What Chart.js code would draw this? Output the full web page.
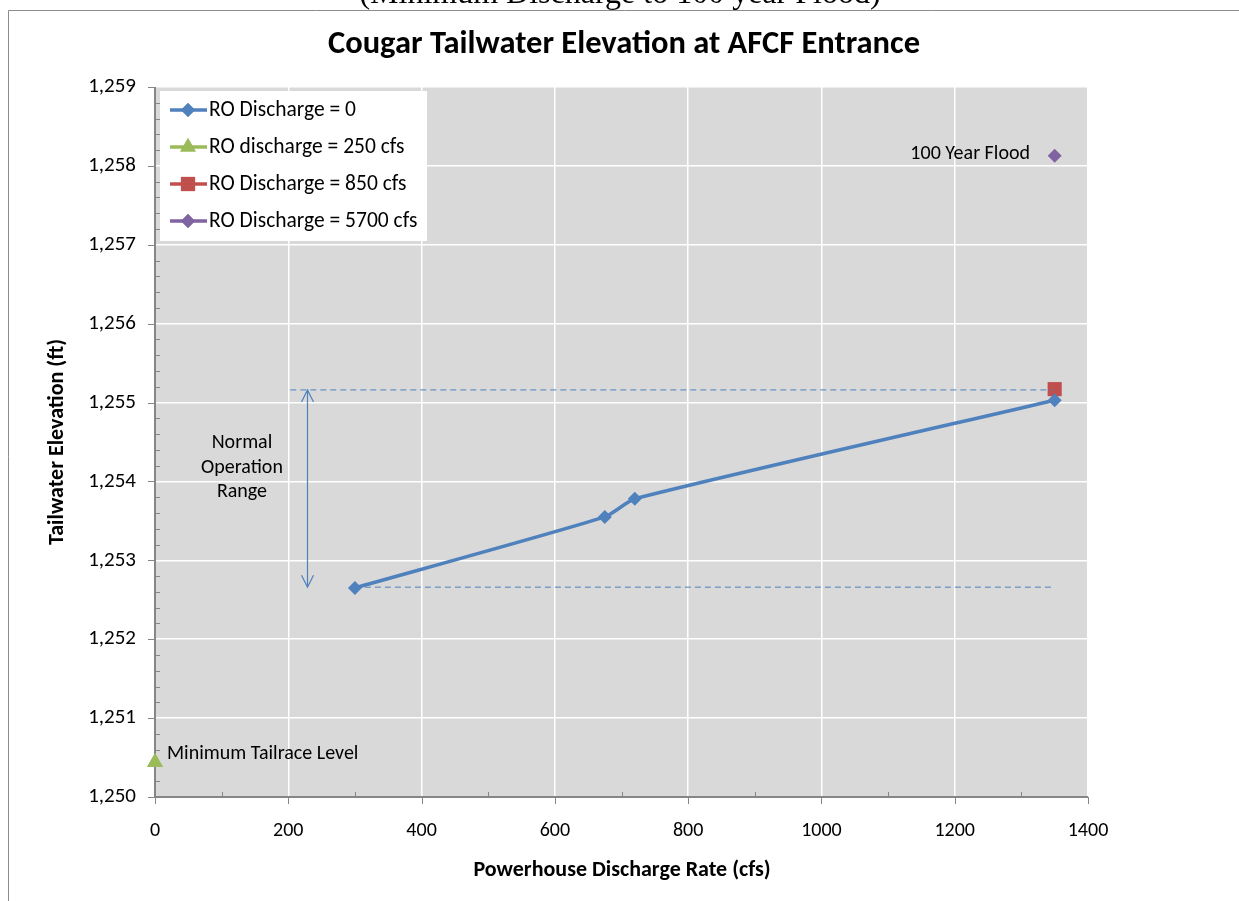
<!DOCTYPE html>
<html>
<head>
<meta charset="utf-8">
<title>Cougar Tailwater Elevation at AFCF Entrance</title>
<script src="https://cdn.jsdelivr.net/npm/chart.js@4.4.1/dist/chart.umd.min.js"></script>
<style>
  html, body { margin: 0; padding: 0; background: #fff; }
  #wrap { position: relative; width: 1239px; height: 901px; }
</style>
</head>
<body>
<div id="wrap"><canvas id="chart" width="1239" height="901"></canvas></div>
<script>
// Powerhouse discharge (cfs) vs tailwater elevation (ft)
const roZeroFlow  = [300, 675, 720, 1350];
const roZeroElev  = [1252.65, 1253.55, 1253.78, 1255.03];
const ro250Flow   = [0];
const ro250Elev   = [1250.44];
const ro850Flow   = [1350];
const ro850Elev   = [1255.17];
const ro5700Flow  = [1350];
const ro5700Elev  = [1258.13];

// normal operation band (dashed guides + arrow)
const bandTopFlow    = [203, 1347];
const bandTopElev    = [1255.16, 1255.16];
const bandBottomFlow = [300, 1347];
const bandBottomElev = [1252.66, 1252.66];
const arrowFlow      = 228;

const yTicks = [1250, 1251, 1252, 1253, 1254, 1255, 1256, 1257, 1258, 1259];
const xTicks = [0, 200, 400, 600, 800, 1000, 1200, 1400];

const FONT = "Carlito, Lato, 'Liberation Sans', sans-serif";
const AXIS_GREY = '#868686';

const pts = (xs, ys) => xs.map((x, i) => ({ x, y: ys[i] }));

const series = [
  { label: 'RO Discharge = 0',         color: '#4F81BD', style: 'rectRot',  radius: 7,  data: pts(roZeroFlow, roZeroElev), line: true },
  { label: 'RO discharge = 250 cfs',   color: '#9BBB59', style: 'triangle', radius: 9,  data: pts(ro250Flow, ro250Elev) },
  { label: 'RO Discharge = 850 cfs',   color: '#C0504D', style: 'rect',     radius: 10, data: pts(ro850Flow, ro850Elev) },
  { label: 'RO Discharge = 5700 cfs',  color: '#8064A2', style: 'rectRot',  radius: 7,  data: pts(ro5700Flow, ro5700Elev) },
];

const datasets = series.map(s => ({
  label: s.label,
  data: s.data,
  showLine: !!s.line,
  borderColor: s.color,
  backgroundColor: s.color,
  borderWidth: 3.5,
  pointStyle: s.style,
  pointRadius: s.radius,
  pointBorderWidth: 0,
  tension: 0.2,
  clip: false,
}));

[[bandTopFlow, bandTopElev], [bandBottomFlow, bandBottomElev]].forEach(([xs, ys]) => {
  datasets.unshift({
    label: '',
    data: pts(xs, ys),
    showLine: true,
    borderColor: '#4F81BD',
    borderWidth: 1,
    borderDash: [6, 4],
    pointRadius: 0,
  });
});

// ─── Extra drawing: frame, plot background, ticks, legend, notes ─────────────

const decorations = {
  id: 'decorations',
  beforeDraw(chart) {
    const { ctx, chartArea: a } = chart;
    ctx.save();
    ctx.fillStyle = '#fff';
    ctx.fillRect(0, 0, chart.width, chart.height);

    // page caption, cut off by the top edge
    ctx.fillStyle = '#000';
    ctx.font = "32px 'Liberation Serif', 'Times New Roman', serif";
    ctx.textAlign = 'center';
    ctx.textBaseline = 'alphabetic';
    ctx.fillText('(Minimum Discharge to 100 year Flood)', 620, 3);

    // outer frame
    ctx.strokeStyle = '#8c8c8c';
    ctx.lineWidth = 1;
    ctx.beginPath();
    ctx.moveTo(8.5, chart.height + 2);
    ctx.lineTo(8.5, 10.5);
    ctx.lineTo(chart.width + 2, 10.5);
    ctx.stroke();

    ctx.fillStyle = '#D9D9D9';
    ctx.fillRect(a.left, a.top, a.right - a.left, a.bottom - a.top);

    // title
    ctx.fillStyle = '#000';
    ctx.font = `bold 32.5px ${FONT}`;
    ctx.textAlign = 'center';
    ctx.textBaseline = 'middle';
    ctx.fillText('Cougar Tailwater Elevation at AFCF Entrance', 624, 45);

    // axis titles
    ctx.font = `bold 22px ${FONT}`;
    ctx.fillText('Powerhouse Discharge Rate (cfs)', 622, 870);
    ctx.translate(57, (a.top + a.bottom) / 2);
    ctx.rotate(-Math.PI / 2);
    ctx.fillText('Tailwater Elevation (ft)', 0, 0);
    ctx.restore();
  },
  afterDraw(chart) {
    const { ctx, chartArea: a, scales: { x, y } } = chart;
    ctx.save();

    // axis lines with major (outward) and minor (inward) ticks
    ctx.strokeStyle = AXIS_GREY;
    ctx.lineWidth = 2;
    ctx.beginPath();
    ctx.moveTo(a.left, a.top);
    ctx.lineTo(a.left, a.bottom);
    ctx.lineTo(a.right, a.bottom);
    ctx.stroke();

    ctx.lineWidth = 1;
    ctx.beginPath();
    for (let v = y.min; v <= y.max + 1e-6; v += 0.2) {
      const py = Math.round(y.getPixelForValue(v)) + 0.5;
      const major = Math.abs(v - Math.round(v)) < 1e-6;
      if (major) { ctx.moveTo(a.left - 7, py); ctx.lineTo(a.left, py); }
      else { ctx.moveTo(a.left, py); ctx.lineTo(a.left + 5, py); }
    }
    for (let v = x.min; v <= x.max + 1e-6; v += 100) {
      const px = Math.round(x.getPixelForValue(v)) + 0.5;
      if (v % 200 === 0) { ctx.moveTo(px, a.bottom); ctx.lineTo(px, a.bottom + 7); }
      else { ctx.moveTo(px, a.bottom); ctx.lineTo(px, a.bottom - 5); }
    }
    ctx.stroke();

    // the 250 cfs marker sits on the axis, on top of it
    const g = chart.getDatasetMeta(3).data[0];
    ctx.fillStyle = series[1].color;
    Chart.helpers.drawPoint(ctx, { pointStyle: 'triangle', radius: series[1].radius, borderWidth: 0 }, g.x, g.y);
    ctx.fill();

    // double-headed arrow for the operation range
    const ax = Math.round(x.getPixelForValue(arrowFlow)) + 0.5;
    const ay1 = y.getPixelForValue(bandTopElev[0]);
    const ay2 = y.getPixelForValue(bandBottomElev[0]);
    ctx.strokeStyle = '#4F81BD';
    ctx.lineWidth = 1.2;
    ctx.beginPath();
    ctx.moveTo(ax, ay1); ctx.lineTo(ax, ay2);
    ctx.moveTo(ax - 6, ay1 + 12); ctx.lineTo(ax, ay1); ctx.lineTo(ax + 6, ay1 + 12);
    ctx.moveTo(ax - 6, ay2 - 12); ctx.lineTo(ax, ay2); ctx.lineTo(ax + 6, ay2 - 12);
    ctx.stroke();

    // notes
    ctx.fillStyle = '#000';
    ctx.font = `20px ${FONT}`;
    ctx.textAlign = 'center';
    ctx.textBaseline = 'middle';
    ['Normal', 'Operation', 'Range'].forEach((t, i) => ctx.fillText(t, 242, 443 + i * 24.5));

    ctx.font = `20px ${FONT}`;
    ctx.textAlign = 'right';
    ctx.fillText('100 Year Flood', 1030, 154);
    ctx.textAlign = 'left';
    ctx.fillText('Minimum Tailrace Level', 167, 754);

    // legend box inside the plot
    ctx.fillStyle = '#fff';
    ctx.fillRect(160, 91, 267, 150);
    ctx.font = `21.5px ${FONT}`;
    series.forEach((s, i) => {
      const cy = 110 + i * 37;
      ctx.strokeStyle = s.color;
      ctx.lineWidth = 3.5;
      ctx.beginPath();
      ctx.moveTo(170, cy); ctx.lineTo(207, cy);
      ctx.stroke();
      ctx.fillStyle = s.color;
      Chart.helpers.drawPoint(ctx, { pointStyle: s.style, radius: s.radius, borderWidth: 0 }, 188, cy);
      ctx.fill();
      ctx.fillStyle = '#000';
      ctx.textAlign = 'left';
      ctx.fillText(s.label, 209, cy + 1);
    });

    ctx.restore();
  },
};

new Chart(document.getElementById('chart'), {
  type: 'scatter',
  data: { datasets },
  plugins: [decorations],
  options: {
    responsive: false,
    animation: false,
    layout: { padding: { top: 87, right: 151, left: 0, bottom: 0 } },
    plugins: {
      legend: { display: false },
      tooltip: { enabled: false },
    },
    scales: {
      x: {
        type: 'linear',
        min: 0, max: 1400,
        afterBuildTicks: (s) => { s.ticks = xTicks.map(v => ({ value: v })); },
        afterFit: (s) => { s.height = 104; },
        grid: { color: '#fff', lineWidth: 1.5, drawTicks: false },
        border: { display: false },
        ticks: { color: '#000', padding: 22, font: { family: FONT, size: 20 }, callback: (v) => String(v) },
      },
      y: {
        type: 'linear',
        min: 1250, max: 1259,
        afterBuildTicks: (s) => { s.ticks = yTicks.map(v => ({ value: v })); },
        afterFit: (s) => { s.width = 155; },
        grid: { color: '#fff', lineWidth: 1.5, drawTicks: false },
        border: { display: false },
        ticks: { color: '#000', padding: 19, font: { family: FONT, size: 21 }, callback: (v) => v.toLocaleString('en-US') },
      },
    },
  },
});
</script>
</body>
</html>
